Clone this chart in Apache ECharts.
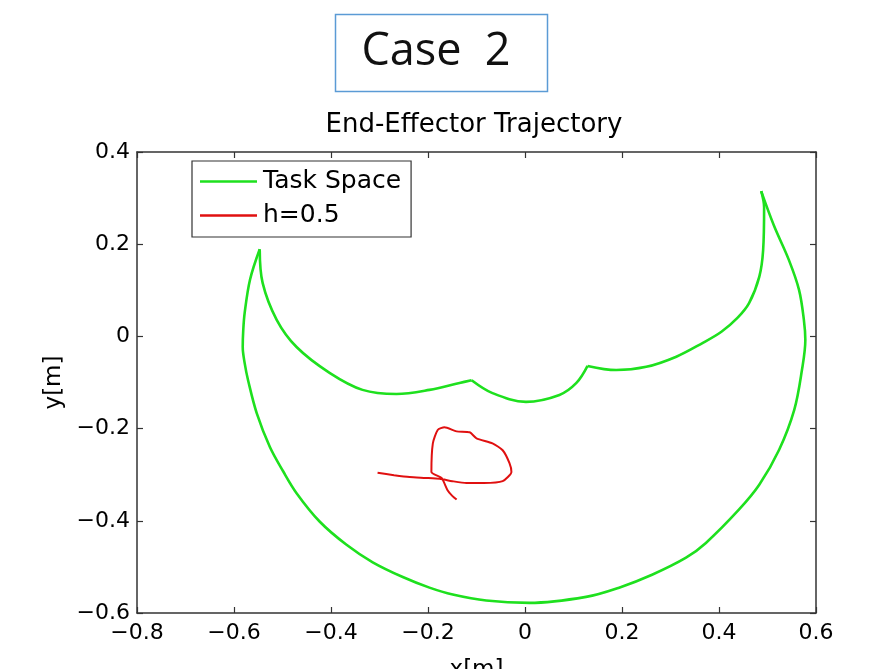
<!DOCTYPE html>
<html>
<head>
<meta charset="utf-8">
<script src="https://cdn.jsdelivr.net/npm/echarts@6/dist/echarts.min.js"></script>
<style>
html,body{margin:0;padding:0;background:#fff;}
#main{width:871px;height:669px;}
</style>
</head>
<body>
<div id="main"></div>
<script>
// workspace boundary, traced as one closed loop (x, y in metres)
var taskX = [-0.547,-0.567,-0.578,-0.581,-0.582,-0.578,-0.571,-0.553,-0.526,-0.499,-0.471,-0.423,-0.368,-0.314,-0.252,-0.197,-0.149,-0.080,0.009,0.126,0.194,0.262,0.332,0.373,0.441,0.483,0.524,0.555,0.571,0.578,0.575,0.565,0.544,0.513,0.487,
	0.493,0.491,0.483,0.462,0.438,0.405,0.365,0.312,0.250,0.188,0.129,0.106,0.071,0.002,-0.067,-0.110,-0.135,-0.197,-0.265,-0.335,-0.403,-0.471,-0.512,-0.541,-0.547];
var taskY = [0.189,0.123,0.051,0.012,-0.023,-0.058,-0.095,-0.167,-0.240,-0.292,-0.340,-0.402,-0.452,-0.490,-0.522,-0.545,-0.560,-0.573,-0.578,-0.565,-0.545,-0.517,-0.480,-0.448,-0.376,-0.322,-0.246,-0.160,-0.073,-0.008,0.036,0.101,0.166,0.241,0.315,
	0.280,0.187,0.129,0.072,0.040,0.010,-0.015,-0.044,-0.066,-0.073,-0.064,-0.101,-0.127,-0.142,-0.123,-0.095,-0.101,-0.116,-0.125,-0.116,-0.079,-0.023,0.036,0.116,0.189];
// indices of the four cusps in the loop above
var cuspIdx = [0, 34, 45, 50, 59];

// end-effector path, h=0.5
var hX = [-0.304,-0.270,-0.238,-0.205,-0.176,-0.150,-0.121,-0.085,-0.046,-0.028,-0.032,-0.046,-0.067,-0.100,-0.114,-0.141,-0.166,-0.180,-0.190,-0.193,-0.172,-0.160,-0.150,-0.141];
var hY = [-0.296,-0.301,-0.305,-0.307,-0.309,-0.314,-0.318,-0.318,-0.314,-0.294,-0.275,-0.247,-0.232,-0.221,-0.208,-0.206,-0.197,-0.203,-0.232,-0.294,-0.307,-0.333,-0.346,-0.354];

var seriesNames = ['Task Space','h=0.5'];
var lineColors = ['#1ee01e','#e01010'];

function pairs(xs, ys, from, to){
	var out = [];
	for(var i=from;i<=to;i++){
		out.push([xs[i], ys[i]]);
	}
	return out;
}

function fmt(v){
	if(Math.abs(v) < 1e-9) return '0';
	return v.toFixed(1).replace('-', '\u2212');
}

var font = '"DejaVu Sans", sans-serif';
var myChart = echarts.init(document.getElementById('main'));

var axisCommon = {
	type:'value',
	interval:0.2,
	splitLine:{show:false},
	axisLine:{show:true, onZero:false, lineStyle:{color:'#333', width:1.5}},
	axisTick:{show:true, inside:true, length:6, lineStyle:{color:'#333', width:1.2}}
};

function makeSeries(){
	var series = [];
	// green loop drawn arc by arc so the cusps stay sharp
	for(var k=0;k<cuspIdx.length-1;k++){
		series.push({
			name:seriesNames[0], type:'line',
			data:pairs(taskX, taskY, cuspIdx[k], cuspIdx[k+1]),
			showSymbol:false, symbol:'none', smooth:0.35,
			lineStyle:{color:lineColors[0], width:2.6},
			itemStyle:{color:lineColors[0]}
		});
	}
	series.push({
		name:seriesNames[1], type:'line',
		data:pairs(hX, hY, 0, hX.length-1),
		showSymbol:false, symbol:'none', smooth:0.2,
		lineStyle:{color:lineColors[1], width:2},
		itemStyle:{color:lineColors[1]}
	});
	return series;
}

option = {
	animation:false,
	backgroundColor:'#fff',
	grid:{left:137, top:152, width:679, height:461, containLabel:false, outerBoundsMode:'none'},
	legend:{
		left:192, top:161,
		orient:'vertical',
		data:seriesNames,
		icon:'rect',
		backgroundColor:'#fff',
		borderColor:'#333',
		borderWidth:1.2,
		borderRadius:0,
		padding:[5,10,6,8],
		itemWidth:57,
		itemHeight:2.5,
		itemGap:3,
		textStyle:{fontSize:25, lineHeight:31, color:'#000', fontFamily:font, padding:[0,0,0,1]}
	},
	xAxis:[
		Object.assign({}, axisCommon, {
			min:-0.8, max:0.6, position:'bottom',
			name:'x[m]', nameLocation:'middle', nameGap:46,
			nameTextStyle:{fontSize:23, color:'#000', fontFamily:font},
			axisLabel:{fontSize:22, color:'#000', fontFamily:font, margin:9, formatter:fmt}
		}),
		Object.assign({}, axisCommon, {
			min:-0.8, max:0.6, position:'top',
			axisLabel:{show:false}
		})
	],
	yAxis:[
		Object.assign({}, axisCommon, {
			min:-0.6, max:0.4, position:'left',
			name:'y[m]', nameLocation:'middle', nameGap:62,
			nameTextStyle:{fontSize:23, color:'#000', fontFamily:font},
			axisLabel:{fontSize:22, color:'#000', fontFamily:font, margin:7, formatter:fmt}
		}),
		Object.assign({}, axisCommon, {
			min:-0.6, max:0.4, position:'right',
			axisLabel:{show:false}
		})
	],
	graphic:[
		{type:'rect', shape:{x:335.5, y:14.5, width:212, height:77}, style:{fill:'#fff', stroke:'#5b9bd5', lineWidth:1.5}},
		{type:'text', x:436, y:52, style:{text:'Case  2', fontSize:45, fill:'#111', fontFamily:'"Open Sans", sans-serif', textAlign:'center', textVerticalAlign:'middle'}},
		{type:'text', x:474, y:125, style:{text:'End-Effector Trajectory', fontSize:26, fill:'#000', fontFamily:font, textAlign:'center', textVerticalAlign:'middle'}}
	],
	series:makeSeries()
};

myChart.setOption(option);
</script>
</body>
</html>
